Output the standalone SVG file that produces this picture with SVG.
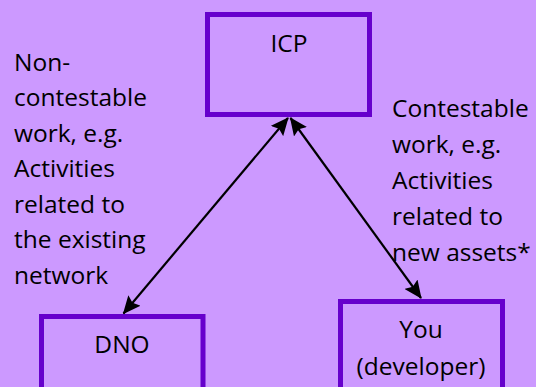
<svg xmlns="http://www.w3.org/2000/svg" width="536" height="387" viewBox="0 0 536 387">
  <style>
    .bg { fill: #CC99FF; }
    .box { fill: #CC99FF; stroke: #6600CC; stroke-width: 5; }
    .lbl { font-family: "Open Sans", "DejaVu Sans", sans-serif; font-size: 24.5px; fill: #000000; }
    .mid { text-anchor: middle; }
    .link { stroke: #000000; stroke-width: 2.2; fill: none; marker-start: url(#head); marker-end: url(#head); }
  </style>
  <defs>
    <marker id="head" markerUnits="userSpaceOnUse" markerWidth="18" markerHeight="16" viewBox="0 0 18 16" refX="17" refY="8" orient="auto-start-reverse">
      <path d="M0,0 L18,8 L0,16 L3,8 Z" fill="#000000"/>
    </marker>
  </defs>

  <rect class="bg" x="0" y="0" width="536" height="387"/>

  <!-- side notes -->
  <g id="note-noncontestable" class="lbl">
    <text x="14" y="70.5">Non-</text>
    <text x="14" y="106">contestable</text>
    <text x="14" y="141.5">work, e.g.</text>
    <text x="14" y="177">Activities</text>
    <text x="14" y="212.5">related to</text>
    <text x="14" y="248">the existing</text>
    <text x="14" y="283.5">network</text>
  </g>
  <g id="note-contestable" class="lbl">
    <text x="392" y="116.5">Contestable</text>
    <text x="392" y="152.5">work, e.g.</text>
    <text x="392" y="188.5">Activities</text>
    <text x="392" y="224.5">related to</text>
    <text x="392" y="260.5">new assets*</text>
  </g>

  <!-- nodes -->
  <g id="icp">
    <rect class="box" x="207.5" y="14.5" width="162" height="100"/>
    <text class="lbl mid" x="289" y="52">ICP</text>
  </g>
  <g id="dno">
    <rect class="box" x="41.5" y="316.5" width="161.5" height="90"/>
    <text class="lbl mid" x="122" y="353">DNO</text>
  </g>
  <g id="you">
    <rect class="box" x="340.5" y="301.5" width="162" height="100"/>
    <text class="lbl mid" x="421" y="338">You</text>
    <text class="lbl mid" x="421" y="375">(developer)</text>
  </g>

  <!-- connectors -->
  <g id="connectors">
    <line class="link" x1="288" y1="118" x2="123.5" y2="313.5"/>
    <line class="link" x1="290.5" y1="118" x2="421" y2="298"/>
  </g>
</svg>
